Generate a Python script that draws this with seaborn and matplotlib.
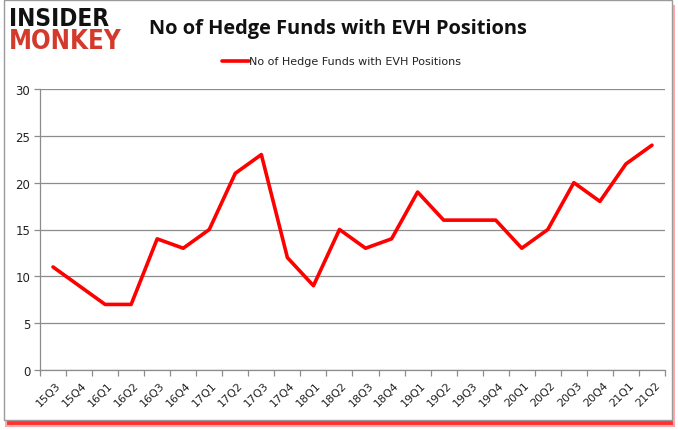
import matplotlib
matplotlib.use("Agg")
import matplotlib.pyplot as plt
import seaborn as sns
import pandas as pd
from matplotlib.patches import Rectangle

quarters = ["15Q3", "15Q4", "16Q1", "16Q2", "16Q3", "16Q4", "17Q1", "17Q2", "17Q3", "17Q4",
            "18Q1", "18Q2", "18Q3", "18Q4", "19Q1", "19Q2", "19Q3", "19Q4", "20Q1", "20Q2",
            "20Q3", "20Q4", "21Q1", "21Q2"]
funds = [11, 9, 7, 7, 14, 13, 15, 21, 23, 12, 9, 15, 13, 14, 19, 16, 16, 16, 13, 15, 20, 18, 22, 24]
y_ticks = [0, 5, 10, 15, 20, 25, 30]
series_name = "No of Hedge Funds with EVH Positions"

sns.set_style("white")
plt.rcParams['font.family'] = ['DejaVu Sans']

df = pd.DataFrame({"pos": range(len(quarters)), "funds": funds, "series": series_name})

fig = plt.figure(figsize=(6.78, 4.31), dpi=100)
ax = fig.add_axes([40/678, 60/431, 625/678, 281/431])

sns.lineplot(data=df, x="pos", y="funds", hue="series", palette=["#ff0000"],
             linewidth=2.6, ax=ax, legend=False)

ax.set_xlim(-0.5, len(quarters) - 0.5)
ax.set_ylim(0, 30)
ax.set_yticks(y_ticks)
ax.set_yticklabels([str(v) for v in y_ticks], fontsize=8.5, color="#222222")
ax.yaxis.grid(True, color="#8c8c8c", linewidth=0.9)
ax.xaxis.grid(False)

ax.set_xticks([i - 0.5 for i in range(len(quarters) + 1)])
ax.set_xticklabels([])
ax.set_xticks([i + 0.1 for i in range(len(quarters))], minor=True)
ax.set_xticklabels(quarters, minor=True, rotation=45, ha="right", va="top",
                   rotation_mode="anchor", fontsize=8, color="#222222")
ax.tick_params(axis="x", which="major", length=4, color="#8c8c8c", width=0.9, direction="out", bottom=True)
ax.tick_params(axis="x", which="minor", length=0, pad=7)
ax.tick_params(axis="y", length=4, color="#8c8c8c", width=0.9, left=True, pad=3)
ax.set_xlabel("")
ax.set_ylabel("")
for s in ["top", "right"]:
    ax.spines[s].set_visible(False)
for s in ["left", "bottom"]:
    ax.spines[s].set_color("#8c8c8c")
    ax.spines[s].set_linewidth(0.9)

fig.text(338/678, 1 - 29/431, series_name, ha="center", va="center",
         fontsize=14.4, fontweight="bold", family="Open Sans", color="#111111")

# legend
fig.add_artist(plt.Line2D([222/678, 249/678], [1 - 62/431, 1 - 62/431], color="#ff0000",
                          linewidth=2.6, transform=fig.transFigure))
fig.text(249/678, 1 - 62/431, series_name, ha="left", va="center", fontsize=8, color="#222222")

# logo
fig.text(9/678, 1 - 19/431, "INSIDER", ha="left", va="center", fontsize=17.5,
         fontweight="heavy", family="DejaVu Sans", fontstretch="condensed", color="#111111")
fig.text(9/678, 1 - 42/431, "MONKEY", ha="left", va="center", fontsize=18.5,
         fontweight="heavy", family="DejaVu Sans", fontstretch="condensed", color="#d33a2c")

# frame with red shadow at bottom
fig.add_artist(Rectangle((6/678, 4/431), 668/678, 420/431, transform=fig.transFigure,
                         fill=True, facecolor="#ff3333", edgecolor="#ffaaaa", linewidth=1.5, zorder=-1))
fig.add_artist(Rectangle((4/678, 10/431), 668/678, 420/431, transform=fig.transFigure,
                         fill=True, facecolor="white", edgecolor="#9a9a9a", linewidth=1.0, zorder=-0.5))

fig.savefig("out.png", dpi=100)
